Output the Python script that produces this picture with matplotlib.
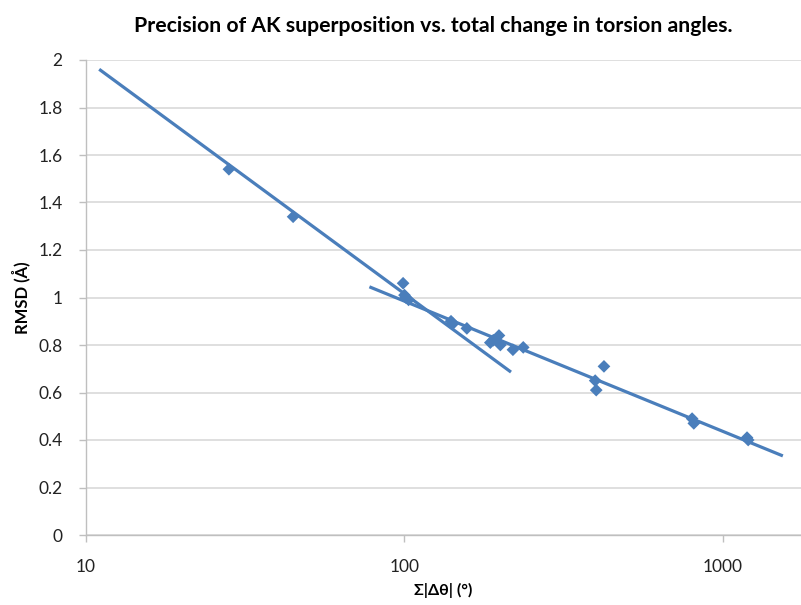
import numpy as np
import matplotlib
matplotlib.use("Agg")
import matplotlib.pyplot as plt
from matplotlib.ticker import FixedLocator, NullLocator

plt.rcParams['font.family'] = ['Lato', 'DejaVu Sans']

title = "Precision of AK superposition vs. total change in torsion angles."

# measured points: total torsion change vs RMSD
angle_sum = [28.1, 44.7, 99, 100, 101, 103, 140, 142, 157, 186, 190, 198, 200,
             219, 236, 397, 400, 423, 800, 810, 1190, 1200]
rmsd = [1.54, 1.34, 1.06, 1.01, 1.00, 0.99, 0.90, 0.89, 0.87, 0.81, 0.82, 0.84,
        0.80, 0.78, 0.79, 0.65, 0.61, 0.71, 0.49, 0.47, 0.41, 0.40]

# trendline end points
trend1_x = [11.0, 216]
trend1_y = [1.961, 0.686]
trend2_x = [77.6, 1542]
trend2_y = [1.045, 0.333]

blue = "#4a7ebb"
grid_col = "#d9d9d9"

fig = plt.figure(figsize=(8.01, 6.05), dpi=100)
ax = fig.add_axes([86 / 801, 1 - 535 / 605, 1 - 86 / 801, 475 / 605])

ax.plot(trend1_x, trend1_y, color=blue, linewidth=2.3, solid_capstyle="butt", zorder=3)
ax.plot(trend2_x, trend2_y, color=blue, linewidth=2.3, solid_capstyle="butt", zorder=3)
ax.scatter(angle_sum, rmsd, marker="D", s=42, color=blue, edgecolors="none", zorder=4)

ax.set_xscale("log")
ax.set_xlim(10, 1758)
ax.set_ylim(0, 2)
ax.xaxis.set_major_locator(FixedLocator([10, 100, 1000]))
ax.xaxis.set_minor_locator(NullLocator())
ax.set_xticklabels(["10", "100", "1000"])
ax.set_yticks(np.arange(0, 2.01, 0.2))
ax.set_yticklabels(["0", "0.2", "0.4", "0.6", "0.8", "1", "1.2", "1.4", "1.6", "1.8", "2"])

ax.grid(axis="y", color=grid_col, linewidth=1.2)
ax.set_axisbelow(True)
for s in ["top", "right"]:
    ax.spines[s].set_visible(False)
for s in ["left", "bottom"]:
    ax.spines[s].set_color("#bfbfbf")
    ax.spines[s].set_linewidth(1)
ax.tick_params(axis="both", colors="#bfbfbf", labelcolor="#222222", labelsize=12.5,
               length=5, width=1)
ax.tick_params(axis="x", pad=12)
ax.tick_params(axis="y", pad=12)

ax.set_xlabel("Σ|Δθ| (°)", fontsize=11.5, fontweight="bold", labelpad=6)
ax.set_ylabel("RMSD (Å)", fontsize=12, fontweight="bold", labelpad=6)

fig.text(433 / 801, 1 - 26 / 605, title, ha="center", va="center",
         fontsize=15.3, fontweight="bold")

fig.savefig("out.png", dpi=100)
